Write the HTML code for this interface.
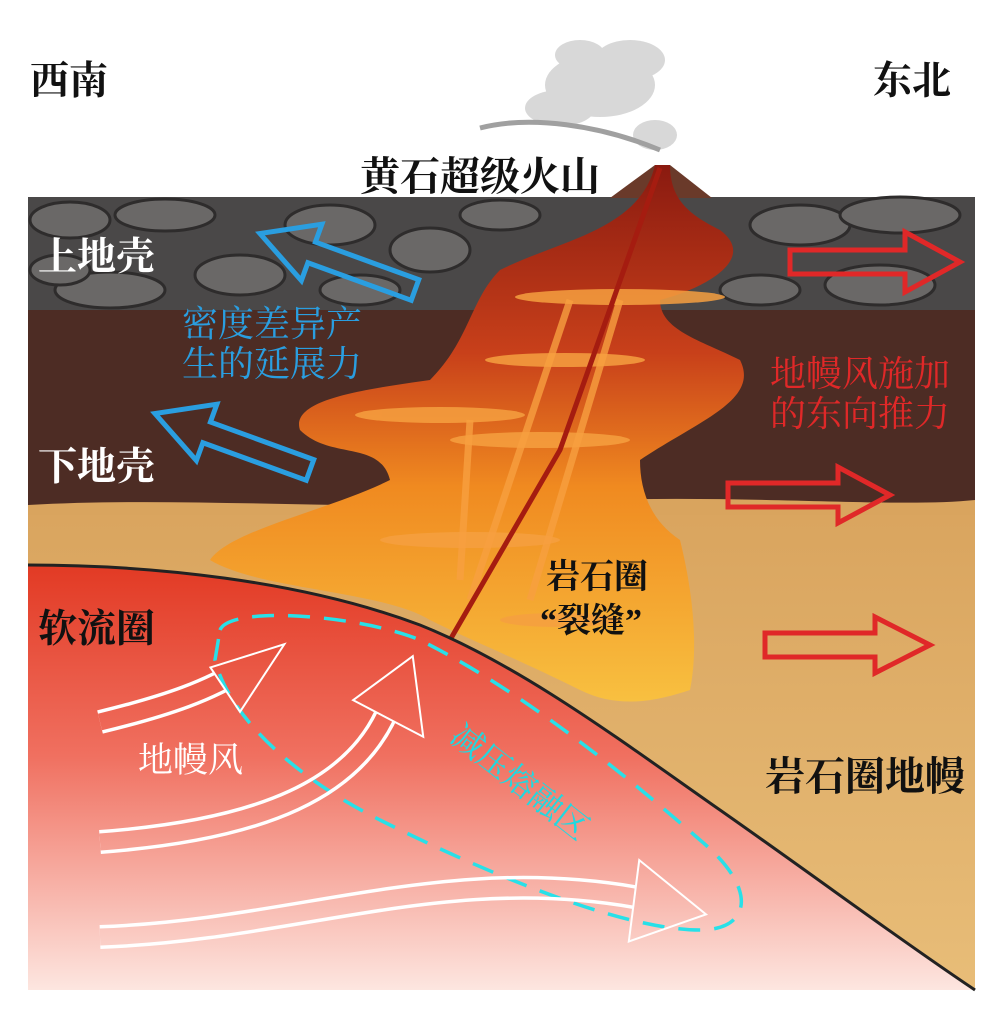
<!DOCTYPE html>
<html><head><meta charset="utf-8"><style>
html,body{margin:0;padding:0;background:#fff;}
svg{display:block}
text{font-family:"Liberation Serif","Noto Serif CJK SC",serif;}
</style></head><body>
<svg width="1008" height="1024" viewBox="0 0 1008 1024" xmlns="http://www.w3.org/2000/svg">
<defs>
<linearGradient id="ast" x1="0" y1="0" x2="0" y2="1">
<stop offset="0" stop-color="#e23a24"/><stop offset="0.45" stop-color="#f07060"/><stop offset="1" stop-color="#fde6e0"/>
</linearGradient>
<linearGradient id="plume" x1="0" y1="0" x2="0" y2="1">
<stop offset="0" stop-color="#8a1a10"/><stop offset="0.35" stop-color="#c8401a"/><stop offset="0.6" stop-color="#f08a20"/><stop offset="1" stop-color="#f8c040"/>
</linearGradient>
<linearGradient id="tan" x1="0" y1="0" x2="0" y2="1">
<stop offset="0" stop-color="#d9a45e"/><stop offset="1" stop-color="#e8bd78"/>
</linearGradient>
<mask id="wm">
<g fill="none" stroke-linecap="butt">
<path d="M100,722 C170,705 210,690 245,668" stroke="#fff" stroke-width="24"/>
<path d="M100,722 C170,705 210,690 245,668" stroke="#000" stroke-width="17"/>
<path d="M100,842 C260,830 360,790 392,700" stroke="#fff" stroke-width="24"/>
<path d="M100,842 C260,830 360,790 392,700" stroke="#000" stroke-width="17"/>
<path d="M100,937 C300,930 450,860 650,900" stroke="#fff" stroke-width="24"/>
<path d="M100,937 C300,930 450,860 650,900" stroke="#000" stroke-width="17"/>
</g>
<polygon points="212,668 282,646 240,710" fill="#fff" stroke="#fff" stroke-width="4"/>
<polygon points="212,668 282,646 240,710" fill="#000"/>
<polygon points="355,700 412,658 422,735" fill="#fff" stroke="#fff" stroke-width="4"/>
<polygon points="355,700 412,658 422,735" fill="#000"/>
<polygon points="640,862 704,914 630,940" fill="#fff" stroke="#fff" stroke-width="4"/>
<polygon points="640,862 704,914 630,940" fill="#000"/>
</mask>
</defs>

<!-- smoke -->
<g fill="#c8c8c8" opacity="0.7">
<ellipse cx="600" cy="85" rx="55" ry="32"/><ellipse cx="560" cy="108" rx="35" ry="18"/>
<ellipse cx="630" cy="60" rx="35" ry="20"/><ellipse cx="655" cy="135" rx="22" ry="15"/>
<ellipse cx="580" cy="55" rx="25" ry="15"/>
</g>
<path d="M480,128 C530,115 600,125 660,150" stroke="#a0a0a0" stroke-width="5" fill="none"/>

<rect x="28" y="500" width="947" height="490" fill="url(#tan)"/>
<rect x="28" y="308" width="947" height="200" fill="#4d2c24"/>
<path d="M28,505 C200,495 400,515 600,500 C750,495 900,508 975,500 L975,515 L28,515Z" fill="#d9a45e"/>
<rect x="28" y="197" width="947" height="113" fill="#4a4848"/>
<g fill="#6a6867" stroke="#2e2c2c" stroke-width="3">
<ellipse cx="70" cy="220" rx="40" ry="18"/><ellipse cx="165" cy="215" rx="50" ry="16"/><ellipse cx="110" cy="290" rx="55" ry="18"/>
<ellipse cx="240" cy="275" rx="45" ry="20"/><ellipse cx="330" cy="225" rx="45" ry="20"/><ellipse cx="430" cy="250" rx="40" ry="22"/>
<ellipse cx="500" cy="215" rx="40" ry="15"/><ellipse cx="360" cy="290" rx="40" ry="15"/><ellipse cx="800" cy="225" rx="50" ry="20"/>
<ellipse cx="900" cy="215" rx="60" ry="18"/><ellipse cx="880" cy="285" rx="55" ry="20"/><ellipse cx="760" cy="290" rx="40" ry="15"/>
<ellipse cx="60" cy="270" rx="30" ry="15"/>
</g>
<polygon points="610,198 655,165 670,165 712,198" fill="#6a3a2a"/>

<path d="M655,165 C640,230 560,240 500,270 C470,300 470,340 430,380 C360,390 290,400 300,430 C330,460 380,440 390,480 C330,510 230,530 210,560 C260,590 380,590 430,620 C470,640 520,660 580,690 C620,710 660,700 690,690 C700,640 690,580 680,540 C650,520 640,490 640,460 C700,420 760,400 740,360 C700,340 660,330 660,300 C700,290 760,260 720,230 C690,215 670,200 670,165Z" fill="url(#plume)"/>
<g fill="#f6a040" opacity="0.85">
<ellipse cx="620" cy="297" rx="105" ry="8"/><ellipse cx="565" cy="360" rx="80" ry="7"/>
<ellipse cx="440" cy="415" rx="85" ry="8"/><ellipse cx="540" cy="440" rx="90" ry="8"/>
<ellipse cx="470" cy="540" rx="90" ry="8"/><ellipse cx="560" cy="620" rx="60" ry="7"/>
</g>
<g stroke="#f8a040" stroke-width="7" fill="none" opacity="0.8">
<path d="M570,300 L470,600"/><path d="M620,300 L530,600"/><path d="M470,420 L460,580"/>
</g>
<path d="M660,168 L560,450 L450,640" stroke="#a51c10" stroke-width="5" fill="none"/>

<path d="M28,565 C150,565 300,580 420,625 C520,665 620,740 720,810 C820,880 900,940 975,990 L28,990Z" fill="url(#ast)"/>
<path d="M28,565 C150,565 300,580 420,625 C520,665 620,740 720,810 C820,880 900,940 975,990" stroke="#222" stroke-width="3" fill="none"/>

<path d="M220,630 C230,605 360,615 420,640 C520,690 620,770 700,840 C760,890 750,930 700,930 C620,930 480,870 380,820 C300,780 230,720 215,660 Z" fill="none" stroke="#28e0e8" stroke-width="3.5" stroke-dasharray="22,14"/>

<rect x="0" y="600" width="1008" height="400" fill="#fff" mask="url(#wm)"/>

<g fill="none" stroke="#2a9ee0" stroke-width="5" stroke-linejoin="miter">
<polygon transform="translate(415,290) rotate(200)" points="0,-11 110,-11 110,-30 165,0 110,30 110,11 0,11"/>
<polygon transform="translate(310,470) rotate(200)" points="0,-11 110,-11 110,-30 165,0 110,30 110,11 0,11"/>
</g>
<g fill="none" stroke="#e02828" stroke-width="5">
<polygon transform="translate(790,262)" points="0,-12 115,-12 115,-30 170,0 115,30 115,12 0,12"/>
<polygon transform="translate(728,495)" points="0,-12 110,-12 110,-28 162,0 110,28 110,12 0,12"/>
<polygon transform="translate(765,645)" points="0,-12 110,-12 110,-28 165,0 110,28 110,12 0,12"/>
</g>

<g font-size="39" font-weight="bold" fill="#111">
<text x="30" y="94">西南</text><text x="873" y="94">东北</text>
</g>
<text x="360" y="190" font-size="40" font-weight="bold" fill="#111">黄石超级火山</text>
<g font-size="39" fill="#fff" font-weight="bold">
<text x="38" y="270">上地壳</text><text x="38" y="480">下地壳</text>
</g>
<g font-size="36" fill="#2a9ee0">
<text x="182" y="336">密度差异产</text><text x="182" y="376">生的延展力</text>
</g>
<g font-size="36" fill="#e02828">
<text x="770" y="386">地幔风施加</text><text x="770" y="426">的东向推力</text>
</g>
<g font-size="34" fill="#111" font-weight="bold">
<text x="546" y="588">岩石圈</text><text x="540" y="632">“裂缝”</text>
</g>
<text x="38" y="642" font-size="39" font-weight="bold" fill="#111">软流圈</text>
<text x="138" y="772" font-size="35" fill="#fff">地幔风</text>
<text x="765" y="790" font-size="40" font-weight="bold" fill="#111">岩石圈地幔</text>
<text transform="translate(448,740) rotate(38)" font-size="33" fill="#20d8e0">减压熔融区</text>
</svg>
</body></html>
